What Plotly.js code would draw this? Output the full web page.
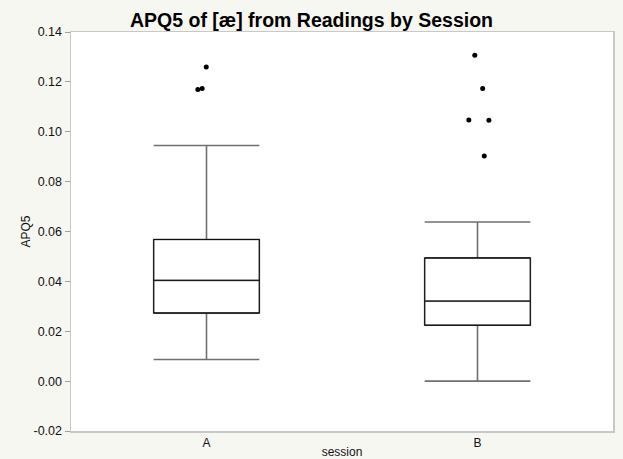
<!DOCTYPE html>
<html>
<head>
<meta charset="utf-8">
<script src="https://cdn.plot.ly/plotly-3.0.1.min.js"></script>
<style>html,body{margin:0;padding:0;background:#f7f7f2;}#chart{width:623px;height:459px;}</style>
</head>
<body>
<div id="chart"></div>
<script>
// Data
const sessions = ['A', 'B'];
const sessionPos = [0, 1];
const q1 = [0.0273, 0.0224];
const median = [0.0404, 0.0321];
const q3 = [0.0568, 0.0494];
const lowerWhisker = [0.0087, 0.0000];
const upperWhisker = [0.0945, 0.0638];

// Outliers (x = session position with horizontal jitter as drawn)
const outlierX = [-0.001, -0.032, -0.016, 0.990, 1.019, 0.968, 1.042, 1.025];
const outlierY = [0.1260, 0.1169, 0.1173, 0.1307, 0.1173, 0.1047, 0.1046, 0.0903];

// Y tick labels
const yTickVals = [-0.02, 0, 0.02, 0.04, 0.06, 0.08, 0.10, 0.12, 0.14];
const yTickText = ['-0.02', '0.00', '0.02', '0.04', '0.06', '0.08', '0.10', '0.12', '0.14'];

const traces = [
  {
    type: 'box', x: sessionPos, q1: q1, median: median, q3: q3,
    lowerfence: lowerWhisker, upperfence: upperWhisker,
    boxpoints: false, width: 0.39, whiskerwidth: 1,
    fillcolor: 'rgba(255,255,255,0)',
    line: {color: '#707070', width: 1.6},
    hoverinfo: 'skip', showlegend: false
  },
  {
    type: 'box', x: sessionPos, q1: q1, median: median, q3: q3,
    lowerfence: q1, upperfence: q3,
    boxpoints: false, width: 0.39, whiskerwidth: 1,
    fillcolor: 'rgba(255,255,255,0)',
    line: {color: '#111111', width: 1},
    hoverinfo: 'skip', showlegend: false
  },
  {
    type: 'scatter', mode: 'markers', x: outlierX, y: outlierY,
    marker: {color: '#000000', size: 5},
    hoverinfo: 'skip', showlegend: false
  }
];

const layout = {
  width: 623, height: 459,
  margin: {l: 71, r: 10, t: 32, b: 28},
  paper_bgcolor: '#f7f7f2',
  plot_bgcolor: '#ffffff',
  font: {family: 'Liberation Sans, Arial, sans-serif', size: 12, color: '#111'},
  title: {
    text: 'APQ5 of [æ] from Readings by Session',
    font: {family: 'Liberation Sans, Arial, sans-serif', size: 19.5, color: '#000', weight: 'bold'},
    x: 0.5, xanchor: 'center', y: 0.955, yanchor: 'middle', xref: 'container'
  },
  xaxis: {
    range: [-0.5, 1.5], tickvals: sessionPos, ticktext: sessions,
    ticks: '', showgrid: false, zeroline: false,
    showline: true, mirror: true, linecolor: '#c8c8c8', linewidth: 1.5,
    tickfont: {size: 12}, ticklabelstandoff: 0,
    title: {text: 'session', font: {size: 12}, standoff: 2}
  },
  yaxis: {
    range: [-0.02, 0.14], tickvals: yTickVals, ticktext: yTickText,
    ticks: 'outside', ticklen: 5, tickcolor: '#a0a0a0', tickwidth: 1,
    showgrid: false, zeroline: false,
    showline: true, mirror: true, linecolor: '#c8c8c8', linewidth: 1.5,
    tickfont: {size: 12.5},
    title: {text: 'APQ5', font: {size: 12}, standoff: 0}
  },
  boxmode: 'overlay'
};

Plotly.newPlot('chart', traces, layout, {staticPlot: true, displayModeBar: false});
</script>
</body>
</html>
